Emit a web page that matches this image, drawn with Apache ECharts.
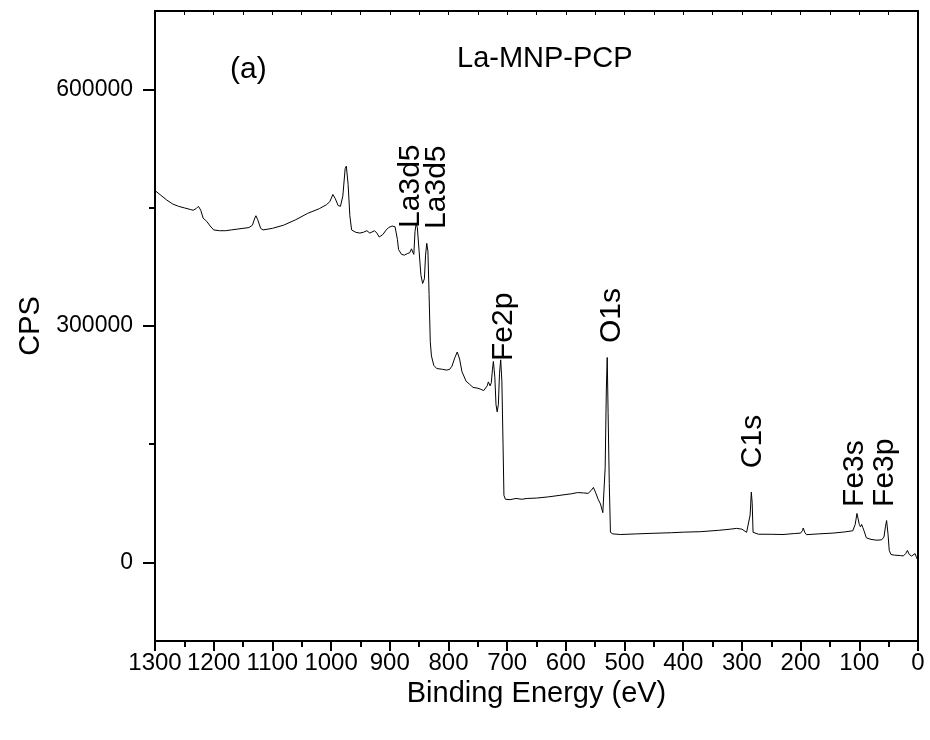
<!DOCTYPE html>
<html>
<head>
<meta charset="utf-8">
<script src="https://cdn.jsdelivr.net/npm/echarts@6/dist/echarts.min.js"></script>
<style>
  html, body { margin: 0; padding: 0; background: #fff; }
  #XpsChart { width: 930px; height: 740px; }
</style>
</head>
<body>
<div id="XpsChart"></div>
<script>
// XPS survey spectrum, La-MNP-PCP
var energy = [1300,1290,1280,1270,1260,1250,1240,1235,1230,1226,1222,1218,1212,1206,1200,1190,1180,1170,1160,1150,
  1140,1134,1130,1128,1125,1120,1116,1100,1081,1060,1040,1020,1008,1002,997,993,988,984,980,976,
  974,971,968,965,958,951,945,939,934,931,926,922,918,912,906,902,896,891,889,887,
  885,880,875,870,866,863,861,859,857,855,853,850,847,844,841,839,837,835,833,831,
  829,825,820,810,803,798,794,789,785,781,777,770,764,758,750,746,740,737,734,732,
  729,727,725,723.5,721,719,717,715,713,711,709,707,705.5,703,695,685,675,666,650,630,
  610,590,580,570,562,557,553,549,545,541,537,535,533,531,529.5,528,526,524,520,507,
  480,450,420,400,371,340,320,309,300,292,289,286,284,282.5,281,278,272,250,230,210,
  200,197,195.5,193,190,170,145,125,111,107,104,102,100,98,96,94,92,88,80,70,
  62,58,55.5,53.5,51,49,46,40,30,25,21,18,15,11,8,5,3,0];
var cps = [472000,466000,460000,455000,452000,450000,448000,447000,449000,452000,447000,437000,433000,427000,422000,421000,421000,422000,423000,424000,
  425000,428000,437000,440000,435000,424000,422000,424000,428000,435000,443000,449000,454000,458000,467000,462000,453000,452000,465000,500000,
  503000,480000,440000,422000,419000,418000,419000,421000,418000,418000,421000,418000,413000,416000,422000,425000,427000,426000,425000,410000,
  397000,391000,390000,392000,393000,398000,394000,391000,420000,430000,425000,395000,365000,354000,360000,390000,405000,395000,340000,280000,
  262000,250000,246000,245000,244000,245000,249000,260000,267000,258000,242000,230000,226000,222000,221000,220000,218000,217000,224000,229000,
  224000,228000,245000,255000,235000,200000,191000,200000,240000,257000,230000,150000,85000,80000,79500,81000,80000,81000,81500,83000,
  85000,87000,88500,88000,87500,91000,95000,88000,80000,74000,63000,65000,120000,220000,260000,190000,100000,38000,36000,35200,
  36000,36800,37500,38200,38800,40500,42000,43000,42000,38000,37000,60000,89000,75000,38000,37000,35600,35500,35200,36500,
  37000,40000,43500,38000,35000,36000,37000,38500,40000,48000,62000,60000,48000,45000,48000,44000,40000,31000,29000,28000,
  28500,32000,45000,53000,35000,15000,9800,9000,8500,8000,11000,15000,10000,7800,9000,11000,7000,2000];

// peak annotations: text, energy and CPS at the foot of the rotated label
var peakNames = ['La3d5', 'La3d5', 'Fe2p', 'O1s', 'C1s', 'Fe3s', 'Fe3p'];
var peakE = [864, 820, 705, 521, 282, 107, 56];
var peakCps = [424600, 423300, 255500, 278400, 119500, 70300, 70300];

var yLabelTicks = [0, 300000, 600000];
var yMinorTicks = [150000, 450000];

var FONT = "'Liberation Sans', Arial, sans-serif";

var XpsChart = echarts.init(document.getElementById('XpsChart'));

var lineData = [];
for (var i = 0; i < energy.length; i++) {
	lineData.push([energy[i], cps[i]]);
}
var peakData = [];
for (var j = 0; j < peakNames.length; j++) {
	peakData.push({ name: peakNames[j], coord: [peakE[j], peakCps[j]] });
}

function plain(v) {
	return String(v);
}

XpsChart.setOption({
	animation: false,
	backgroundColor: '#fff',
	textStyle: { fontFamily: FONT, color: '#000' },
	grid: { left: 155, right: 12, top: 11, bottom: 99 },
	graphic: [
		{ type: 'text', left: 230, top: 55, style: { text: '(a)', font: '30px ' + FONT, fill: '#000' } },
		{ type: 'text', left: 457, top: 44, style: { text: 'La-MNP-PCP', font: '29px ' + FONT, fill: '#000' } }
	],
	xAxis: [
		{
			type: 'value',
			position: 'bottom',
			inverse: true,
			min: 0,
			max: 1300,
			interval: 100,
			name: 'Binding Energy (eV)',
			nameLocation: 'middle',
			nameGap: 38,
			nameTextStyle: { fontSize: 29, color: '#000', fontFamily: FONT },
			axisLine: { onZero: false, lineStyle: { color: '#000', width: 2 } },
			axisTick: { length: 10, lineStyle: { color: '#000', width: 2 } },
			minorTick: { show: true, splitNumber: 2, length: 6, lineStyle: { color: '#000', width: 2 } },
			axisLabel: { fontSize: 24, color: '#000', margin: 10, fontFamily: FONT, formatter: plain, hideOverlap: false, showMinLabel: true, showMaxLabel: true },
			splitLine: { show: false }
		},
		{
			type: 'value',
			position: 'top',
			inverse: true,
			min: 0,
			max: 1300,
			interval: 50,
			axisLine: { onZero: false, lineStyle: { color: '#000', width: 2 } },
			axisTick: { inside: true, length: 4, lineStyle: { color: '#000', width: 1 } },
			axisLabel: { show: false },
			splitLine: { show: false }
		}
	],
	yAxis: [
		{
			type: 'value',
			position: 'left',
			min: -100000,
			max: 700000,
			name: 'CPS',
			nameLocation: 'middle',
			nameGap: 104,
			nameTextStyle: { fontSize: 29, color: '#000', fontFamily: FONT },
			axisLine: { onZero: false, lineStyle: { color: '#000', width: 2 } },
			axisTick: { length: 12, customValues: yLabelTicks, lineStyle: { color: '#000', width: 2 } },
			axisLabel: { fontSize: 23, color: '#000', margin: 22, customValues: yLabelTicks, fontFamily: FONT, formatter: plain },
			splitLine: { show: false }
		},
		{
			type: 'value',
			position: 'left',
			offset: 0,
			min: -100000,
			max: 700000,
			axisLine: { show: false, onZero: false },
			axisTick: { length: 6, customValues: yMinorTicks, lineStyle: { color: '#000', width: 2 } },
			axisLabel: { show: false },
			splitLine: { show: false }
		},
		{
			type: 'value',
			position: 'right',
			min: -100000,
			max: 700000,
			axisLine: { show: true, onZero: false, lineStyle: { color: '#000', width: 2 } },
			axisTick: { show: false },
			axisLabel: { show: false },
			splitLine: { show: false }
		}
	],
	series: [
		{
			type: 'line',
			data: lineData,
			showSymbol: false,
			lineStyle: { color: '#000', width: 1 },
			markPoint: {
				symbol: 'circle',
				symbolSize: 0,
				data: peakData,
				label: {
					show: true,
					formatter: '{b}',
					position: 'inside',
					rotate: 90,
					align: 'left',
					verticalAlign: 'middle',
					fontSize: 30,
					color: '#000',
					fontFamily: FONT
				}
			}
		}
	]
});
</script>
</body>
</html>
